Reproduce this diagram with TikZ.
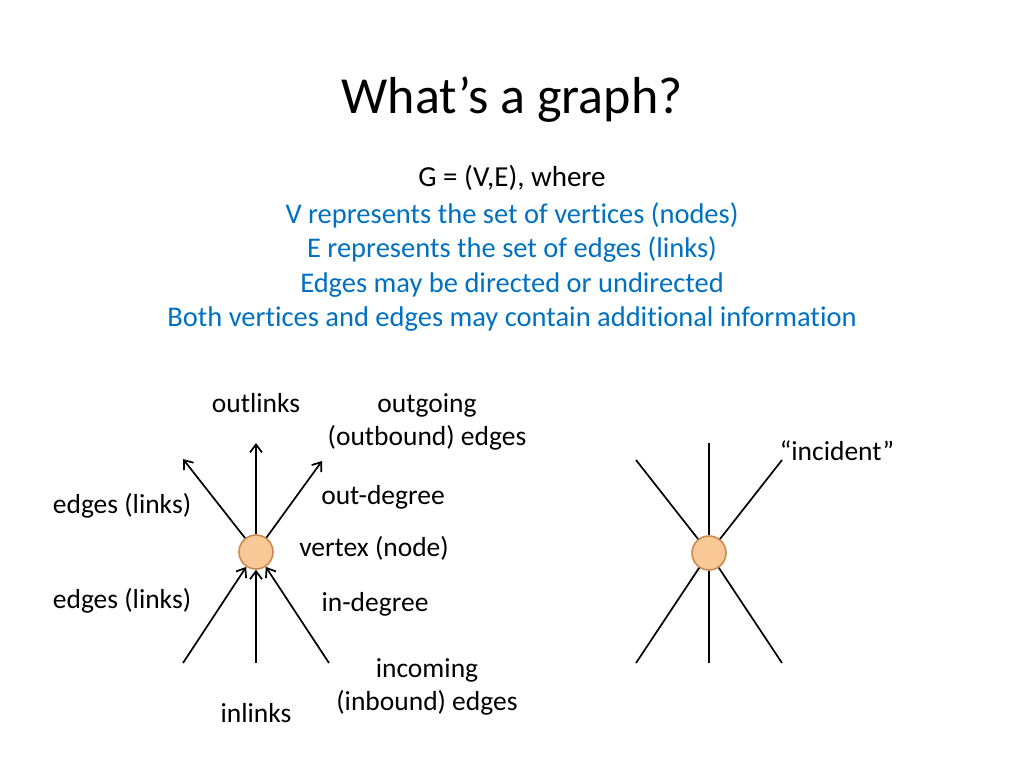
\documentclass[tikz,border=0pt]{standalone}
\usepackage{fontspec}
\setmainfont{Carlito}[RawFeature=-liga]
\usetikzlibrary{arrows.meta}
\definecolor{slideblue}{RGB}{0,112,192}
\definecolor{vfill}{RGB}{250,200,150}
\definecolor{vdraw}{RGB}{200,140,80}
\begin{document}
\begin{tikzpicture}[x=1pt,y=-1pt,
    vertex/.style={circle,draw=vdraw,fill=vfill,line width=1.6pt,minimum size=34pt,inner sep=0pt},
    lbl/.style={font=\fontsize{27.5}{33}\selectfont,align=center},
    link/.style={line width=1.7pt},
    arr/.style={link,-{Straight Barb[length=8pt,width=12pt]}}]
\useasboundingbox (0,0) rectangle (1024,768);
\node[font=\fontsize{52}{60}\selectfont] (title) at (512,100) {What’s a graph?};
\node[font=\fontsize{29}{34}\selectfont] (def) at (512,178) {G = (V,E), where};
\node[lbl,text=slideblue,font=\fontsize{28.5}{34.5}\selectfont] (items) at (512,267)
  {V represents the set of vertices (nodes)\\E represents the set of edges (links)\\Edges may be directed or undirected\\Both vertices and edges may contain additional information};
% directed vertex
\node[vertex] (v) at (256,552) {};
\coordinate (o1) at (183,459);
\coordinate (o2) at (256,443);
\coordinate (o3) at (322,461);
\coordinate (i1) at (183,663);
\coordinate (i2) at (256,663);
\coordinate (i3) at (329,663);
\foreach \c in {o1,o2,o3} \draw[arr] (v) -- (\c);
\foreach \c in {i1,i2,i3} \draw[arr] (\c) -- (v);
\node[lbl] (outl) at (256,403) {outlinks};
\node[lbl] (outg) at (427,422) {outgoing\\(outbound) edges};
\node[lbl] (eup) at (122,506) {edges (links)};
\node[lbl] (odeg) at (383,497) {out-degree};
\node[lbl] (vtx) at (374,548) {vertex (node)};
\node[lbl] (edn) at (122,601) {edges (links)};
\node[lbl] (ideg) at (375,604) {in-degree};
\node[lbl] (inc) at (427,687) {incoming\\(inbound) edges};
\node[lbl] (inl) at (256,713) {inlinks};
% undirected vertex
\node[vertex] (u) at (709,553) {};
\coordinate (a1) at (636,460);
\coordinate (a2) at (709,443);
\coordinate (a3) at (782,460);
\coordinate (b1) at (636,663);
\coordinate (b2) at (709,663);
\coordinate (b3) at (782,663);
\draw[link] (a1) -- (u) -- (b3);
\draw[link] (a3) -- (u) -- (b1);
\draw[link] (a2) -- (u) -- (b2);
\node[lbl] (incid) at (837,451) {“incident”};
\end{tikzpicture}
\end{document}
